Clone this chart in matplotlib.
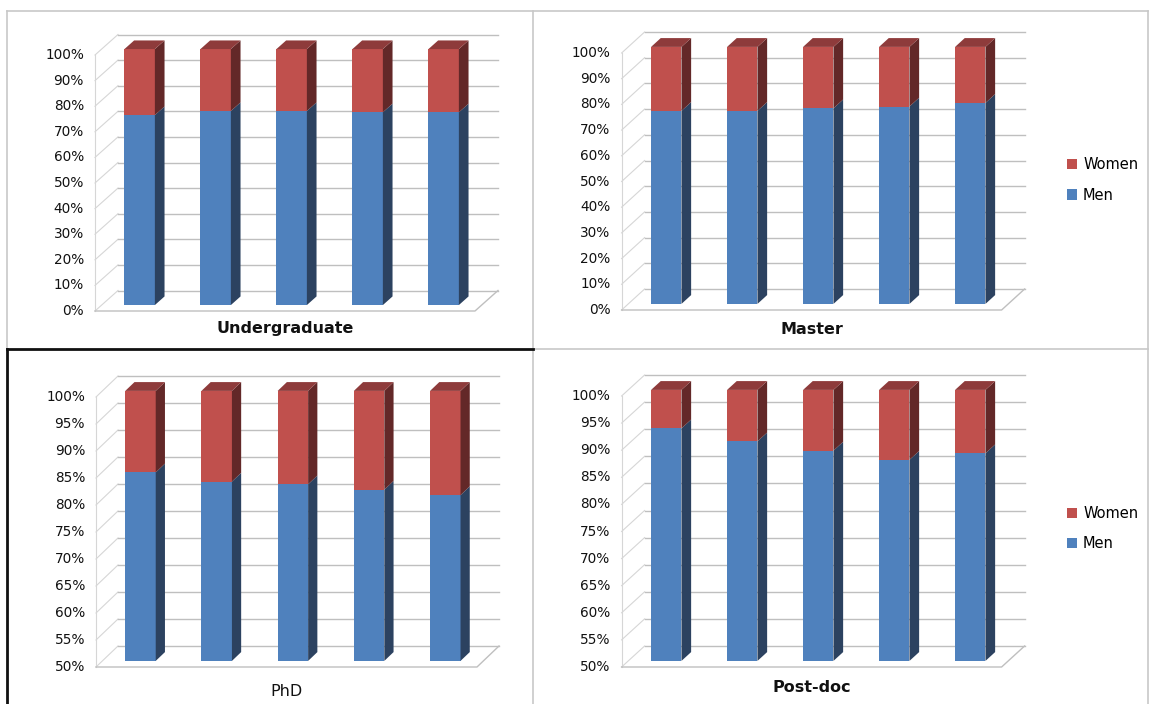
import matplotlib
matplotlib.use('Agg')
import matplotlib.pyplot as plt
from matplotlib.patches import Polygon, Patch
from matplotlib.lines import Line2D

matplotlib.rcParams['font.family'] = 'DejaVu Sans'

W, H = 1149, 704

# ------------------------------------------------------------
# data (share of men, %), women = 100 - men
# ------------------------------------------------------------
levels = ['Undergraduate', 'Master', 'PhD', 'Post-doc']
men_undergrad = [74.2, 75.8, 75.8, 75.3, 75.3]
men_master = [75.1, 75.1, 76.1, 76.8, 78.2]
men_phd = [84.9, 83.2, 82.7, 81.7, 80.7]
men_postdoc = [92.9, 90.5, 88.8, 87.1, 88.3]
series_labels = ['Women', 'Men']

BLUE = '#4F81BD'
BLUE_SIDE = '#2C4260'
RED = '#C0504D'
RED_SIDE = '#632828'
RED_TOP = '#8E3B3B'
GRID = '#BFBFBF'
GRID_LIGHT = '#D6D6D6'

label_off = {'Undergraduate': 17, 'Master': 19, 'PhD': 25, 'Post-doc': 20}


def make_panel(rect, x0, y0, ux, uy, dx, dy, vmin, vmax, step,
               men, label, bold, legend=None):
    xl, yt, xr, yb = rect
    ax = plt.gcf().add_axes([xl / W, 1 - yb / H, (xr - xl) / W, (yb - yt) / H])
    ax.set_xlim((xl - x0) / ux, (xr - x0) / ux)
    ax.set_ylim(vmin + (y0 - yb) / uy, vmin + (y0 - yt) / uy)
    ax.axis('off')

    DX, DY = dx / ux, dy / uy
    n = len(men)

    def P(x, v, z):
        return (x + z * DX, v + z * DY)

    # walls, grid and floor
    ticks = list(range(vmin, vmax + 1, step))
    for v in ticks:
        a, b, c = P(0, v, 0), P(0, v, 1), P(n, v, 1)
        ax.plot([a[0], b[0]], [a[1], b[1]], color=GRID_LIGHT, lw=0.8, zorder=1)
        ax.plot([b[0], c[0]], [b[1], c[1]], color=GRID, lw=1.0, zorder=1)
        ax.text(-11 / ux, v, f'{v}%', ha='right', va='center',
                fontsize=9.8, color='#111111')
    a, b = P(0, vmin, 0), P(0, vmax, 0)
    ax.plot([a[0], b[0]], [a[1], b[1]], color=GRID_LIGHT, lw=0.8, zorder=1)
    a, b, c = P(0, vmin, 0), P(n, vmin, 0), P(n, vmin, 1)
    ax.plot([a[0], b[0], c[0]], [a[1], b[1], c[1]], color=GRID, lw=1.0, zorder=1)

    # 3D stacked bars
    hw, z0, z1 = 0.2, 0.29, 0.71
    for i, m in enumerate(men):
        xc = i + 0.5
        left, right = xc - hw, xc + hw
        segs = [(vmin, m, BLUE, BLUE_SIDE), (m, 100, RED, RED_SIDE)]
        for lo, hi, face, side in segs:
            ax.add_patch(Polygon([P(left, lo, z0), P(right, lo, z0),
                                  P(right, hi, z0), P(left, hi, z0)],
                                 closed=True, fc=face, ec='none', zorder=3))
            ax.add_patch(Polygon([P(right, lo, z0), P(right, lo, z1),
                                  P(right, hi, z1), P(right, hi, z0)],
                                 closed=True, fc=side, ec='none', zorder=3))
        ax.add_patch(Polygon([P(left, 100, z0), P(right, 100, z0),
                              P(right, 100, z1), P(left, 100, z1)],
                             closed=True, fc=RED_TOP, ec='none', zorder=3))

    ax.annotate(label, xy=(n / 2, vmin), xytext=(0, -label_off[label]),
                textcoords='offset pixels', ha='center', va='center',
                fontsize=11.5, fontweight='bold' if bold else 'normal',
                color='#111111')

    if legend is not None:
        handles = [Patch(fc=RED, ec='none'), Patch(fc=BLUE, ec='none')]
        ax.legend(handles, series_labels, loc='center left',
                  bbox_to_anchor=((legend[0] - xl) / (xr - xl),
                                  (yb - legend[1]) / (yb - yt)),
                  frameon=False, fontsize=10.5, borderpad=0, borderaxespad=0,
                  handlelength=0.7, handleheight=0.7, handletextpad=0.4,
                  labelspacing=1.05)
    return ax


fig = plt.figure(figsize=(W / 100, H / 100), dpi=100)

make_panel((8, 12, 532, 348), 95, 311, 76, 2.56, 23, 20.5, 0, 100, 10,
           men_undergrad, levels[0], True)
make_panel((534, 12, 1146, 348), 621.6, 310, 76, 2.57, 23, 21, 0, 100, 10,
           men_master, levels[1], True, legend=(1067, 180))
make_panel((8, 350, 532, 704), 96, 667, 76.2, 5.4, 22, 21, 50, 100, 5,
           men_phd, levels[2], False)
make_panel((534, 350, 1146, 704), 621.6, 667, 76, 5.42, 23, 21, 50, 100, 5,
           men_postdoc, levels[3], True, legend=(1067, 528.5))


# panel borders
def fig_line(p, q, color, lw):
    fig.add_artist(Line2D([p[0] / W, q[0] / W], [1 - p[1] / H, 1 - q[1] / H],
                          color=color, lw=lw, transform=fig.transFigure))


fig_line((7, 11), (1148, 11), '#C8C8C8', 1.2)
fig_line((7, 11), (7, 349), '#C8C8C8', 1.2)
fig_line((533, 11), (533, 704), '#C8C8C8', 1.2)
fig_line((1148, 11), (1148, 704), '#C8C8C8', 1.2)
fig_line((533, 349), (1148, 349), '#C8C8C8', 1.2)
fig_line((7, 349), (533, 349), '#111111', 2.0)
fig_line((7, 349), (7, 704), '#111111', 2.0)

fig.savefig('out.png', dpi=100)
